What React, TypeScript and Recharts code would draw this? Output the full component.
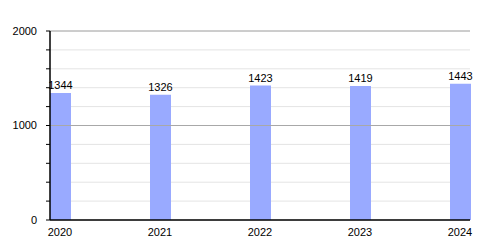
import React from 'react';
import { BarChart, Bar, XAxis, YAxis, CartesianGrid, ReferenceLine, LabelList } from 'recharts';

const years = ['2020', '2021', '2022', '2023', '2024'];
const values = [1344, 1326, 1423, 1419, 1443];
const yTicks = [0, 200, 400, 600, 800, 1000, 1200, 1400, 1600, 1800, 2000];
const majorTicks = [1000, 2000];

const data = years.map((y, i) => ({ year: y, value: values[i] }));

export default function App() {
  return (
    <div style={{ position: 'absolute', left: 0, top: 0, width: 500, height: 250, background: '#fff', fontFamily: '"Liberation Sans", Arial, sans-serif' }}>
      <BarChart width={500} height={250} data={data} margin={{ top: 31, right: 30, bottom: 10, left: 0 }}>
        <CartesianGrid vertical={false} stroke="#e4e4e4" strokeWidth={1} />
        {majorTicks.map((t) => (
          <ReferenceLine key={t} y={t} stroke="#a8a8a8" strokeWidth={1} />
        ))}
        <XAxis
          dataKey="year"
          scale="point"
          padding={{ left: 10, right: 10 }}
          axisLine={{ stroke: '#000', strokeWidth: 1.5 }}
          tickLine={false}
          tick={{ fill: '#000', fontSize: 11 }}
          tickMargin={2}
          height={20}
          interval={0}
        />
        <YAxis
          width={50}
          domain={[0, 2000]}
          ticks={yTicks}
          interval={0}
          tickFormatter={(v: number) => (v % 1000 === 0 ? String(v) : '')}
          axisLine={{ stroke: '#000', strokeWidth: 1.5 }}
          tickLine={{ stroke: '#000' }}
          tickSize={4}
          tickMargin={9}
          tick={{ fill: '#000', fontSize: 11 }}
        />
        <Bar dataKey="value" fill="#99aaff" barSize={21} isAnimationActive={false}>
          <LabelList dataKey="value" position="top" offset={4} fill="#000" fontSize={11} />
        </Bar>
      </BarChart>
    </div>
  );
}
